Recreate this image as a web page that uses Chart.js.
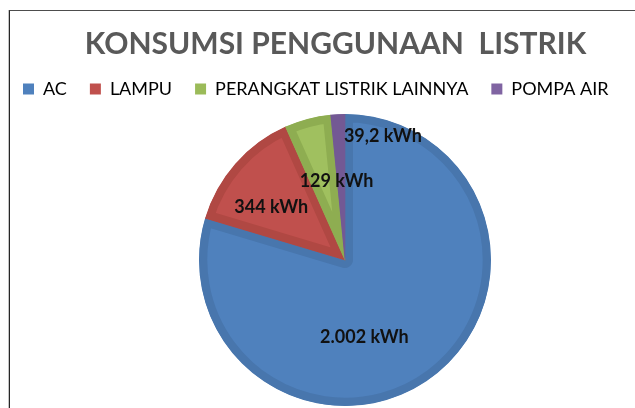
<!DOCTYPE html>
<html>
<head>
<meta charset="utf-8">
<script src="https://cdn.jsdelivr.net/npm/chart.js@4/dist/chart.umd.min.js"></script>
<style>
html, body { margin: 0; padding: 0; background: #ffffff; }
#wrap { position: relative; width: 635px; height: 408px; overflow: hidden; background: #ffffff; }
#frame { position: absolute; left: 9px; top: 10px; width: 700px; height: 500px;
  border-left: 1px solid #262626; border-top: 1px solid #4d4d4d; box-shadow: -1px 0 0 #c4c4c4; }
canvas { position: absolute; left: 0; top: 0; }
</style>
</head>
<body>
<div id="wrap">
  <div id="frame"></div>
  <canvas id="c" width="635" height="408"></canvas>
</div>
<script>
// ---- data ----
const chartTitle = 'KONSUMSI PENGGUNAAN  LISTRIK';
const categories = ['AC', 'LAMPU', 'PERANGKAT LISTRIK LAINNYA', 'POMPA AIR'];
const consumptionKwh = [2002, 344, 129, 39.2];
const unitLabel = 'kWh';

// ---- styles ----
const fillColors   = ['#4F81BD', '#C0504D', '#A0C05F', '#8064A2'];
const bevelColors  = ['#4876AD', '#B04843', '#8EAD51', '#735994'];
const legendColors = ['#4F81BD', '#C0504D', '#9BBB59', '#8064A2'];
const labelPlace = [
  { f: 0.60, dx: -33, dy: 7 },
  { f: 0.60, dx: -8,  dy: 5 },
  { f: 0.60, dx: 14,  dy: 6 },
  { f: 0.85, dx: 44,  dy: 0 }
];
const layoutNudge = { titleX: 18, legendY: -6, areaX: 27.5 };

function formatKwh(v) {
  const parts = String(v).split('.');
  const intPart = parts[0].replace(/\B(?=(\d{3})+(?!\d))/g, '.');
  return (parts.length > 1 ? intPart + ',' + parts[1] : intPart) + ' ' + unitLabel;
}

const nudgePlugin = {
  id: 'nudge',
  afterLayout(chart) {
    const t = chart.titleBlock;
    if (t) { t.left += layoutNudge.titleX; t.right += layoutNudge.titleX; }
    const l = chart.legend;
    if (l) { l.top += layoutNudge.legendY; l.bottom += layoutNudge.legendY; }
    const a = chart.chartArea;
    a.left += layoutNudge.areaX; a.right += layoutNudge.areaX;
  }
};

const valueLabelPlugin = {
  id: 'valueLabels',
  afterDatasetsDraw(chart) {
    const ctx = chart.ctx;
    const meta = chart.getDatasetMeta(0);
    ctx.save();
    ctx.font = 'bold 18px Lato';
    ctx.fillStyle = '#111111';
    ctx.textAlign = 'center';
    ctx.textBaseline = 'middle';
    meta.data.forEach((arc, i) => {
      const p = arc.getProps(['x', 'y', 'startAngle', 'endAngle', 'outerRadius'], true);
      const mid = (p.startAngle + p.endAngle) / 2;
      const pl = labelPlace[i];
      const px = p.x + Math.cos(mid) * p.outerRadius * pl.f + pl.dx;
      const py = p.y + Math.sin(mid) * p.outerRadius * pl.f + pl.dy;
      ctx.fillText(formatKwh(consumptionKwh[i]), px, py);
    });
    ctx.restore();
  }
};

function draw() {
  new Chart(document.getElementById('c'), {
    type: 'pie',
    data: {
      labels: categories,
      datasets: [{
        data: consumptionKwh,
        backgroundColor: fillColors,
        borderColor: bevelColors,
        borderWidth: 8,
        borderAlign: 'inner',
        hoverOffset: 0
      }]
    },
    options: {
      responsive: false,
      animation: false,
      events: [],
      rotation: 0,
      layout: { padding: { top: 0, left: 0, right: 0, bottom: 2 } },
      plugins: {
        tooltip: { enabled: false },
        title: {
          display: true,
          text: chartTitle,
          color: '#595959',
          font: { family: 'Lato', size: 30, weight: 'bold', lineHeight: 1.2 },
          padding: { top: 26, bottom: 1 }
        },
        legend: {
          display: true,
          position: 'top',
          align: 'start',
          labels: {
            color: '#595959',
            font: { family: 'Lato', size: 18 },
            boxWidth: 11,
            boxHeight: 11,
            padding: 23,
            generateLabels(chart) {
              return categories.map((c, i) => ({
                text: c,
                fillStyle: legendColors[i],
                strokeStyle: legendColors[i],
                lineWidth: 0,
                hidden: false,
                index: i
              }));
            }
          }
        }
      }
    },
    plugins: [nudgePlugin, valueLabelPlugin]
  });
}

Promise.all([
  document.fonts.load('bold 30px Lato'),
  document.fonts.load('18px Lato'),
  document.fonts.load('bold 18px Lato')
]).then(draw, draw);
</script>
</body>
</html>
